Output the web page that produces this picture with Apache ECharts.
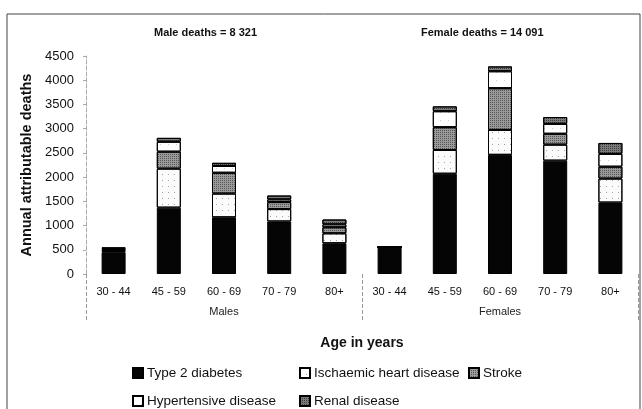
<!DOCTYPE html>
<html>
<head>
<meta charset="utf-8">
<script src="https://cdn.jsdelivr.net/npm/echarts@6/dist/echarts.min.js"></script>
<style>
html, body { margin: 0; padding: 0; background: #fff; }
#chart { width: 642px; height: 409px; }
</style>
</head>
<body>
<div id="chart"></div>
<script>
// age groups, males first then females
const ageGroups = ['30 - 44', '45 - 59', '60 - 69', '70 - 79', '80+',
	'30 - 44', '45 - 59', '60 - 69', '70 - 79', '80+']
const sexGroups = ['Males', 'Females']
const diabetes = [450, 1370, 1170, 1085, 635, 555, 2070, 2460, 2340, 1475]
const ischaemic = [25, 805, 490, 255, 205, 0, 490, 515, 330, 495]
const stroke = [30, 350, 430, 145, 125, 0, 470, 860, 225, 245]
const hypertensive = [15, 205, 140, 55, 60, 0, 330, 350, 205, 265]
const renal = [30, 80, 65, 80, 100, 0, 100, 100, 140, 225]
const titles = ['Male deaths = 8 321', 'Female deaths = 14 091']

const font = '"Liberation Sans", Arial, sans-serif'

// stippled fill like the printed original
function dots(color, gap) {
	return {
		symbol: 'rect',
		symbolSize: 1,
		color: color,
		dashArrayX: [1, gap],
		dashArrayY: [1, gap],
		rotation: 0,
	}
}

const styles = {
	'Type 2 diabetes': { color: '#050505' },
	'Ischaemic heart disease': { color: '#fbfbfb', decal: dots('rgba(0,0,0,0.35)', 5) },
	'Stroke': { color: '#9a9a9a', decal: dots('rgba(30,30,30,0.55)', 1) },
	'Hypertensive disease': { color: '#ffffff', decal: dots('rgba(0,0,0,0.2)', 7) },
	'Renal disease': { color: '#7a7a7a', decal: dots('rgba(20,20,20,0.6)', 1) },
}
const seriesData = [
	{ name: 'Type 2 diabetes', data: diabetes },
	{ name: 'Ischaemic heart disease', data: ischaemic },
	{ name: 'Stroke', data: stroke },
	{ name: 'Hypertensive disease', data: hypertensive },
	{ name: 'Renal disease', data: renal },
]

const legendPos = [
	[127, 361], [294, 361], [463, 361],
	[127, 389], [294, 389],
]

let series = seriesData.map((item) => {
	return {
		name: item.name,
		type: 'bar',
		stack: 'total',
		barWidth: 24,
		data: item.data,
		itemStyle: Object.assign({ borderColor: '#000', borderWidth: 1 }, styles[item.name]),
	}
})

let option = {
	animation: false,
	backgroundColor: '#fff',
	textStyle: { fontFamily: font },
	title: [
		{ text: titles[0], left: 149, top: 22, textStyle: { fontSize: 11, fontWeight: 'bold', color: '#111', fontFamily: font } },
		{ text: titles[1], left: 416, top: 22, textStyle: { fontSize: 11, fontWeight: 'bold', color: '#111', fontFamily: font } },
	],
	legend: seriesData.map((item, i) => {
		return {
			data: [item.name],
			left: legendPos[i][0],
			top: legendPos[i][1],
			icon: 'rect',
			itemWidth: 10,
			itemHeight: 10,
			itemGap: 4,
			selectedMode: false,
			textStyle: { fontSize: 13.5, color: '#111', fontFamily: font, padding: [0, 0, 0, -1] },
		}
	}),
	grid: { left: 86, right: 4, top: 56, bottom: 135 },
	xAxis: [
		{
			type: 'category',
			data: ageGroups,
			axisLine: { show: false },
			axisTick: { show: false },
			axisLabel: { interval: 0, margin: 12, fontSize: 11, color: '#111', fontFamily: font },
		},
		{
			type: 'category',
			data: sexGroups,
			position: 'bottom',
			axisLine: { show: false },
			axisTick: { show: true, length: 46, lineStyle: { color: '#999', type: 'dashed' } },
			axisLabel: { interval: 0, margin: 32, fontSize: 11, color: '#222', fontFamily: font },
			name: 'Age in years',
			nameLocation: 'middle',
			nameGap: 62,
			nameTextStyle: { fontSize: 14, fontWeight: 'bold', color: '#111', fontFamily: font },
		},
	],
	yAxis: {
		type: 'value',
		min: 0,
		max: 4500,
		interval: 500,
		splitLine: { show: false },
		axisLine: { show: true, lineStyle: { color: '#aaa', type: 'dashed' } },
		axisTick: { show: true, length: 3, lineStyle: { color: '#aaa' } },
		axisLabel: { fontSize: 13, color: '#111', margin: 12, fontFamily: font, formatter: (v) => String(v) },
		name: 'Annual attributable deaths',
		nameLocation: 'middle',
		nameGap: 52,
		nameTextStyle: { fontSize: 14.5, fontWeight: 'bold', color: '#111', fontFamily: font },
	},
	graphic: [
		{
			type: 'rect',
			shape: { x: 7, y: 14, width: 633, height: 420 },
			style: { fill: 'none', stroke: '#444', lineWidth: 1 },
			silent: true,
		},
	],
	series: series,
}

let myChart = echarts.init(document.getElementById('chart'))
myChart.setOption(option)
</script>
</body>
</html>
